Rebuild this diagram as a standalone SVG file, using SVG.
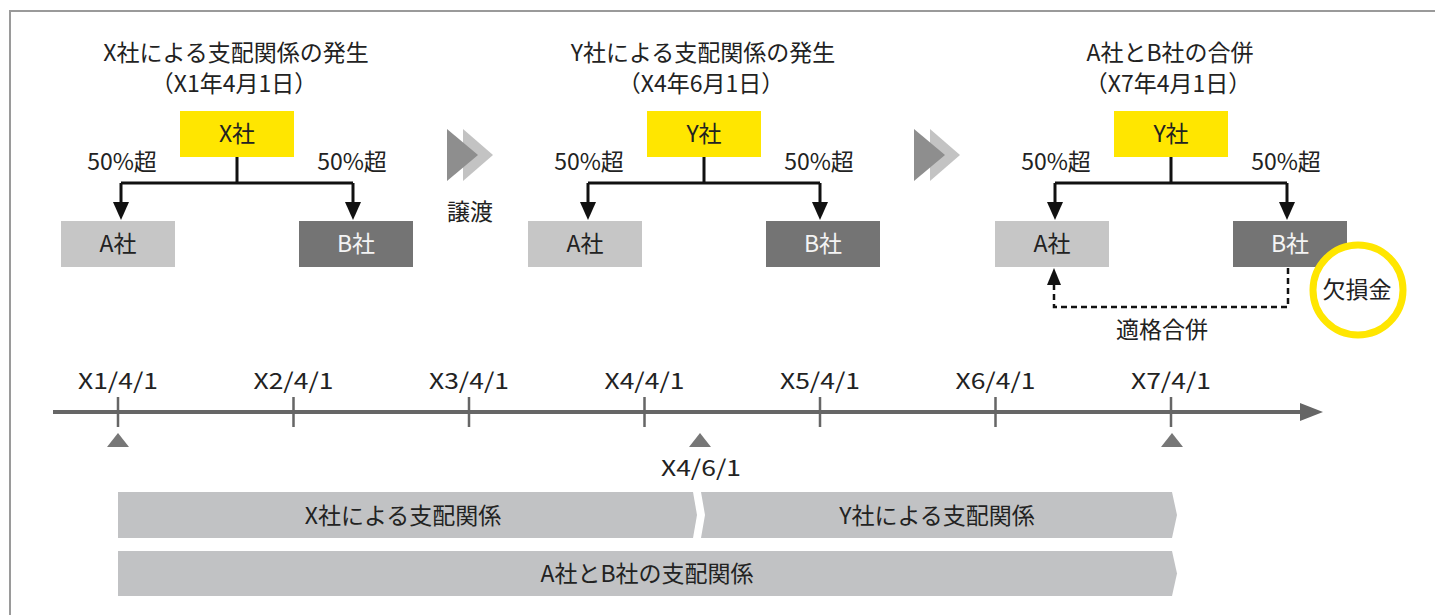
<svg xmlns="http://www.w3.org/2000/svg" width="1435" height="615" viewBox="0 0 1435 615">
<style>
text{font-family:"Noto Sans CJK JP","Noto Sans",sans-serif;font-size:23px;fill:#222;text-anchor:middle}
.w{fill:#f4f4f4}
.yl{fill:#ffe600}
.ag{fill:#c6c6c6}
.bg{fill:#747474}
.ln{fill:none;stroke:#111;stroke-width:3}
.dash{fill:none;stroke:#111;stroke-width:2.5;stroke-dasharray:6 4}
.chd{fill:#8e8e8e}
.chl{fill:#c3c3c3}
.tick{stroke:#666;stroke-width:2.5}
.mk{fill:#777}
.bar{fill:#c1c2c4}
.dt{font-size:22px}
</style>
<defs>
<marker id="ar" markerUnits="userSpaceOnUse" viewBox="0 0 18 16" refX="0" refY="8" markerWidth="18" markerHeight="16" orient="auto">
<path d="M0,0 L18,8 L0,16 Z" fill="#111"/>
</marker>
<marker id="ar2" markerUnits="userSpaceOnUse" viewBox="0 0 17 14" refX="0" refY="7" markerWidth="17" markerHeight="14" orient="auto">
<path d="M0,0 L17,7 L0,14 Z" fill="#111"/>
</marker>
</defs>
<path d="M10,615 V11 H1435" fill="none" stroke="#9a9a9a" stroke-width="2"/>

<g id="panel1">
<text x="236" y="61">X社による支配関係の発生</text>
<text x="234" y="92">（X1年4月1日）</text>
<g id="p1-X"><rect x="180" y="111" width="114" height="46" class="yl"/><text x="237" y="142">X社</text></g>
<g id="p1-A"><rect x="61" y="221" width="114" height="46" class="ag"/><text x="118" y="252">A社</text></g>
<g id="p1-B"><rect x="299" y="221" width="114" height="46" class="bg"/><text x="356" y="252" class="w">B社</text></g>
<text x="122" y="170">50%超</text>
<text x="352" y="170">50%超</text>
</g>

<g id="panel2">
<text x="703" y="61">Y社による支配関係の発生</text>
<text x="701" y="92">（X4年6月1日）</text>
<g id="p2-Y"><rect x="647" y="111" width="114" height="46" class="yl"/><text x="704" y="142">Y社</text></g>
<g id="p2-A"><rect x="528" y="221" width="114" height="46" class="ag"/><text x="585" y="252">A社</text></g>
<g id="p2-B"><rect x="766" y="221" width="114" height="46" class="bg"/><text x="823" y="252" class="w">B社</text></g>
<text x="589" y="170">50%超</text>
<text x="819" y="170">50%超</text>
</g>

<g id="panel3">
<text x="1170" y="61">A社とB社の合併</text>
<text x="1168" y="92">（X7年4月1日）</text>
<g id="p3-Y"><rect x="1114" y="111" width="114" height="46" class="yl"/><text x="1171" y="142">Y社</text></g>
<g id="p3-A"><rect x="995" y="221" width="114" height="46" class="ag"/><text x="1052" y="252">A社</text></g>
<g id="p3-B"><rect x="1233" y="221" width="114" height="46" class="bg"/><text x="1290" y="252" class="w">B社</text></g>
<text x="1056" y="170">50%超</text>
<text x="1286" y="170">50%超</text>
<text x="1162" y="338">適格合併</text>
<g id="p3-loss"><circle cx="1358" cy="290" r="45" fill="#fff" stroke="#ffe600" stroke-width="7"/><text x="1357" y="298">欠損金</text></g>
</g>

<g id="transfer">
<polygon class="chl" points="463,129 493,155 463,181"/>
<polygon class="chd" points="447,129 478,155 447,181"/>
<text x="470" y="220">譲渡</text>
<polygon class="chl" points="930,129 960,155 930,181"/>
<polygon class="chd" points="914,129 945,155 914,181"/>
</g>

<g id="connectors">
<path class="ln" d="M237,157 V183 M121,183 H353"/>
<path class="ln" d="M121,183 V202" marker-end="url(#ar)"/>
<path class="ln" d="M353,183 V202" marker-end="url(#ar)"/>
<path class="ln" d="M704,157 V183 M588,183 H820"/>
<path class="ln" d="M588,183 V202" marker-end="url(#ar)"/>
<path class="ln" d="M820,183 V202" marker-end="url(#ar)"/>
<path class="ln" d="M1171,157 V183 M1055,183 H1287"/>
<path class="ln" d="M1055,183 V202" marker-end="url(#ar)"/>
<path class="ln" d="M1287,183 V202" marker-end="url(#ar)"/>
<path class="dash" d="M1288,268 V307 H1054 V285" marker-end="url(#ar2)"/>
</g>

<g id="timeline">
<path d="M53,412 H1302" stroke="#666" stroke-width="4"/>
<polygon points="1300,403 1323,412 1300,421" fill="#666"/>
<path class="tick" d="M118,397 V427 M293.5,397 V427 M469,397 V427 M644.5,397 V427 M820,397 V427 M995.5,397 V427 M1171,397 V427"/>
<text class="dt" x="118" y="389" textLength="80" lengthAdjust="spacingAndGlyphs">X1/4/1</text>
<text class="dt" x="293.5" y="389" textLength="80" lengthAdjust="spacingAndGlyphs">X2/4/1</text>
<text class="dt" x="469" y="389" textLength="80" lengthAdjust="spacingAndGlyphs">X3/4/1</text>
<text class="dt" x="644.5" y="389" textLength="80" lengthAdjust="spacingAndGlyphs">X4/4/1</text>
<text class="dt" x="820" y="389" textLength="80" lengthAdjust="spacingAndGlyphs">X5/4/1</text>
<text class="dt" x="995.5" y="389" textLength="80" lengthAdjust="spacingAndGlyphs">X6/4/1</text>
<text class="dt" x="1171" y="389" textLength="80" lengthAdjust="spacingAndGlyphs">X7/4/1</text>
<polygon class="mk" points="107,447 118,433 129,447"/>
<polygon class="mk" points="689,447 700,433 711,447"/>
<polygon class="mk" points="1161,447 1172,433 1183,447"/>
<text class="dt" x="701" y="476" textLength="80" lengthAdjust="spacingAndGlyphs">X4/6/1</text>
</g>

<g id="bars">
<polygon class="bar" points="118,492 693,492 697,515 693,538 118,538"/>
<text x="403" y="524">X社による支配関係</text>
<polygon class="bar" points="701,492 1172,492 1177,515 1172,538 701,538 705,515"/>
<text x="937" y="524">Y社による支配関係</text>
<polygon class="bar" points="118,551 1172,551 1177,573.5 1172,596 118,596"/>
<text x="647" y="582">A社とB社の支配関係</text>
</g>
</svg>
